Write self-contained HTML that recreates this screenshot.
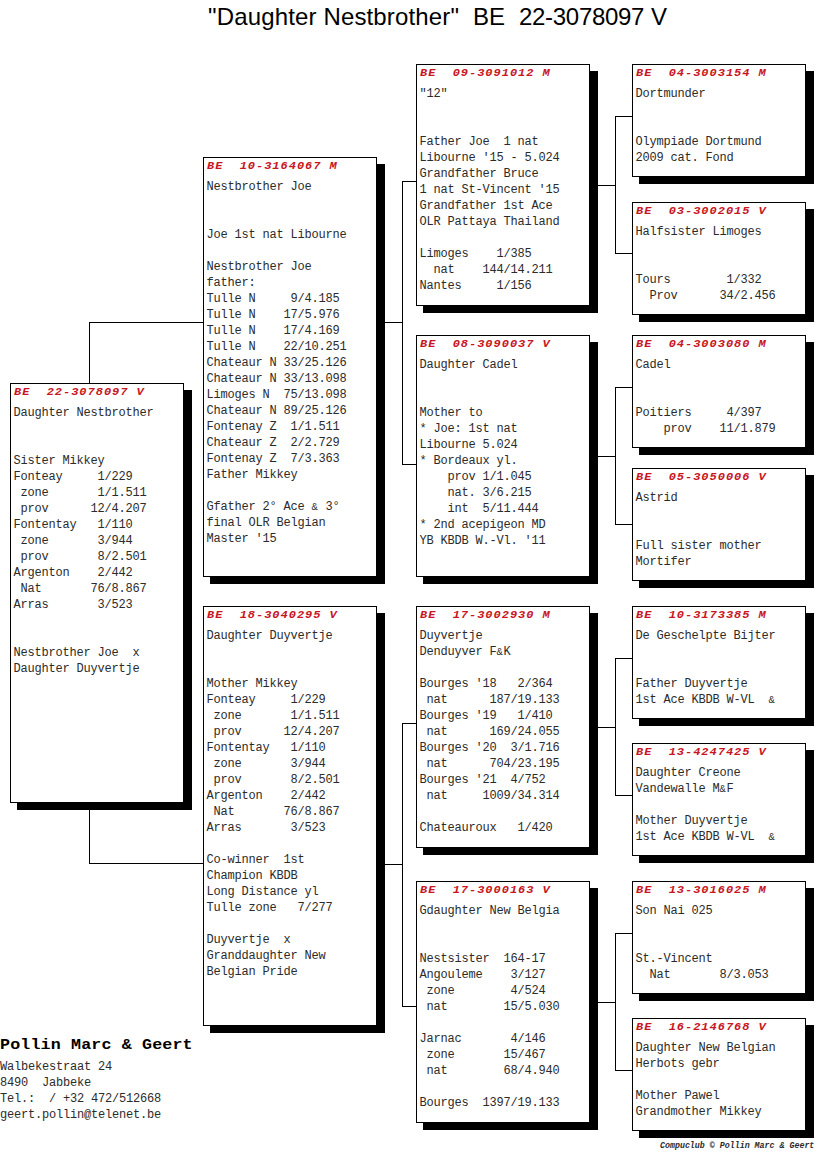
<!DOCTYPE html><html><head><meta charset="utf-8"><title>Pedigree</title><style>
*{margin:0;padding:0;box-sizing:border-box}
html,body{width:816px;height:1172px;background:#fff;overflow:hidden}
body{position:relative;font-family:"Liberation Mono",monospace;color:#2b2b2b}
.l{position:absolute;background:#000}
.s{position:absolute;background:#000;width:175px}
.b{position:absolute;background:#fff;border:1px solid #000;width:174px}
.h{position:absolute;left:3px;top:0px;transform-origin:0 11px;transform:scaleY(0.85);font-weight:bold;font-style:italic;color:#c8161f;font-weight:bold;font-size:12px;letter-spacing:0.97px;white-space:pre;line-height:16px}
.t{position:absolute;left:2.5px;top:21px;font-size:12px;letter-spacing:-0.2px;line-height:16px;white-space:pre}
.title{position:absolute;left:208px;top:4px;font-family:"Liberation Sans",sans-serif;font-size:24px;white-space:pre;line-height:26px;color:#000}
.ft{position:absolute;left:0;top:1037px;font-weight:bold;font-size:16.67px;letter-spacing:0.15px;white-space:pre;line-height:20px;transform-origin:0 0;transform:scaleY(0.88);color:#000}
.ad{position:absolute;left:0px;top:1059px;font-size:12px;letter-spacing:-0.2px;line-height:16px;white-space:pre}
.a{font-size:10.5px;letter-spacing:0.7px;line-height:0}
.cc{position:absolute;left:660px;top:1141px;font-size:8.3px;font-weight:bold;font-style:italic;white-space:pre;line-height:10px;letter-spacing:0px}
</style></head><body>
<div class="title" style="left:208px;letter-spacing:0.15px">"Daughter Nestbrother"</div>
<div class="title" style="left:473px">BE</div>
<div class="title" style="left:519px;letter-spacing:-0.3px">22-3078097</div>
<div class="title" style="left:651px">V</div>
<div class="l" style="left:89px;top:322px;width:1px;height:542px"></div>
<div class="l" style="left:89px;top:322px;width:115px;height:1px"></div>
<div class="l" style="left:89px;top:863px;width:115px;height:1px"></div>
<div class="l" style="left:402px;top:181px;width:1px;height:284px"></div>
<div class="l" style="left:376px;top:322px;width:27px;height:1px"></div>
<div class="l" style="left:402px;top:181px;width:15px;height:1px"></div>
<div class="l" style="left:402px;top:464px;width:15px;height:1px"></div>
<div class="l" style="left:402px;top:723px;width:1px;height:284px"></div>
<div class="l" style="left:376px;top:864px;width:27px;height:1px"></div>
<div class="l" style="left:402px;top:723px;width:15px;height:1px"></div>
<div class="l" style="left:402px;top:1006px;width:15px;height:1px"></div>
<div class="l" style="left:615px;top:116px;width:1px;height:138px"></div>
<div class="l" style="left:589px;top:185px;width:27px;height:1px"></div>
<div class="l" style="left:615px;top:116px;width:18px;height:1px"></div>
<div class="l" style="left:615px;top:253px;width:18px;height:1px"></div>
<div class="l" style="left:615px;top:387px;width:1px;height:138px"></div>
<div class="l" style="left:589px;top:456px;width:27px;height:1px"></div>
<div class="l" style="left:615px;top:387px;width:18px;height:1px"></div>
<div class="l" style="left:615px;top:524px;width:18px;height:1px"></div>
<div class="l" style="left:615px;top:658px;width:1px;height:138px"></div>
<div class="l" style="left:589px;top:727px;width:27px;height:1px"></div>
<div class="l" style="left:615px;top:658px;width:18px;height:1px"></div>
<div class="l" style="left:615px;top:795px;width:18px;height:1px"></div>
<div class="l" style="left:615px;top:933px;width:1px;height:138px"></div>
<div class="l" style="left:589px;top:1002px;width:27px;height:1px"></div>
<div class="l" style="left:615px;top:933px;width:18px;height:1px"></div>
<div class="l" style="left:615px;top:1070px;width:18px;height:1px"></div>
<div class="s" style="left:17px;top:390px;height:420px"></div>
<div class="b" style="left:10px;top:383px;height:420px"><div class="h">BE  22-3078097 V</div><div class="t">Daughter Nestbrother


Sister Mikkey
Fonteay     1/229
 zone       1/1.511
 prov      12/4.207
Fontentay   1/110
 zone       3/944
 prov       8/2.501
Argenton    2/442
 Nat       76/8.867
Arras       3/523


Nestbrother Joe  x
Daughter Duyvertje</div></div>
<div class="s" style="left:210px;top:164px;height:420px"></div>
<div class="b" style="left:203px;top:157px;height:420px"><div class="h">BE  10-3164067 M</div><div class="t">Nestbrother Joe


Joe 1st nat Libourne

Nestbrother Joe
father:
Tulle N     9/4.185
Tulle N    17/5.976
Tulle N    17/4.169
Tulle N    22/10.251
Chateaur N 33/25.126
Chateaur N 33/13.098
Limoges N  75/13.098
Chateaur N 89/25.126
Fontenay Z  1/1.511
Chateaur Z  2/2.729
Fontenay Z  7/3.363
Father Mikkey

Gfather 2° Ace <span class="a">&amp;</span> 3°
final OLR Belgian
Master '15</div></div>
<div class="s" style="left:210px;top:613px;height:420px"></div>
<div class="b" style="left:203px;top:606px;height:420px"><div class="h">BE  18-3040295 V</div><div class="t">Daughter Duyvertje


Mother Mikkey
Fonteay     1/229
 zone       1/1.511
 prov      12/4.207
Fontentay   1/110
 zone       3/944
 prov       8/2.501
Argenton    2/442
 Nat       76/8.867
Arras       3/523

Co-winner  1st
Champion KBDB
Long Distance yl
Tulle zone   7/277

Duyvertje  x
Granddaughter New
Belgian Pride</div></div>
<div class="s" style="left:423px;top:71px;height:242px"></div>
<div class="b" style="left:416px;top:64px;height:242px"><div class="h">BE  09-3091012 M</div><div class="t">"12"


Father Joe  1 nat
Libourne '15 - 5.024
Grandfather Bruce
1 nat St-Vincent '15
Grandfather 1st Ace
OLR Pattaya Thailand

Limoges    1/385
  nat    144/14.211
Nantes     1/156</div></div>
<div class="s" style="left:423px;top:342px;height:242px"></div>
<div class="b" style="left:416px;top:335px;height:242px"><div class="h">BE  08-3090037 V</div><div class="t">Daughter Cadel


Mother to
* Joe: 1st nat
Libourne 5.024
* Bordeaux yl.
    prov 1/1.045
    nat. 3/6.215
    int  5/11.444
* 2nd acepigeon MD
YB KBDB W.-Vl. '11</div></div>
<div class="s" style="left:423px;top:613px;height:242px"></div>
<div class="b" style="left:416px;top:606px;height:242px"><div class="h">BE  17-3002930 M</div><div class="t">Duyvertje
Denduyver F<span class="a">&amp;</span>K

Bourges '18   2/364
 nat      187/19.133
Bourges '19   1/410
 nat      169/24.055
Bourges '20  3/1.716
 nat      704/23.195
Bourges '21  4/752
 nat     1009/34.314

Chateauroux   1/420</div></div>
<div class="s" style="left:423px;top:888px;height:242px"></div>
<div class="b" style="left:416px;top:881px;height:242px"><div class="h">BE  17-3000163 V</div><div class="t">Gdaughter New Belgia


Nestsister  164-17
Angouleme    3/127
 zone        4/524
 nat        15/5.030

Jarnac       4/146
 zone       15/467
 nat        68/4.940

Bourges  1397/19.133</div></div>
<div class="s" style="left:639px;top:71px;height:113px"></div>
<div class="b" style="left:632px;top:64px;height:113px"><div class="h">BE  04-3003154 M</div><div class="t">Dortmunder


Olympiade Dortmund
2009 cat. Fond</div></div>
<div class="s" style="left:639px;top:209px;height:113px"></div>
<div class="b" style="left:632px;top:202px;height:113px"><div class="h">BE  03-3002015 V</div><div class="t">Halfsister Limoges


Tours        1/332
  Prov      34/2.456</div></div>
<div class="s" style="left:639px;top:342px;height:113px"></div>
<div class="b" style="left:632px;top:335px;height:113px"><div class="h">BE  04-3003080 M</div><div class="t">Cadel


Poitiers     4/397
    prov    11/1.879</div></div>
<div class="s" style="left:639px;top:475px;height:113px"></div>
<div class="b" style="left:632px;top:468px;height:113px"><div class="h">BE  05-3050006 V</div><div class="t">Astrid


Full sister mother
Mortifer</div></div>
<div class="s" style="left:639px;top:613px;height:113px"></div>
<div class="b" style="left:632px;top:606px;height:113px"><div class="h">BE  10-3173385 M</div><div class="t">De Geschelpte Bijter


Father Duyvertje
1st Ace KBDB W-VL  <span class="a">&amp;</span></div></div>
<div class="s" style="left:639px;top:750px;height:113px"></div>
<div class="b" style="left:632px;top:743px;height:113px"><div class="h">BE  13-4247425 V</div><div class="t">Daughter Creone
Vandewalle M<span class="a">&amp;</span>F

Mother Duyvertje
1st Ace KBDB W-VL  <span class="a">&amp;</span></div></div>
<div class="s" style="left:639px;top:888px;height:113px"></div>
<div class="b" style="left:632px;top:881px;height:113px"><div class="h">BE  13-3016025 M</div><div class="t">Son Nai 025


St.-Vincent
  Nat       8/3.053</div></div>
<div class="s" style="left:639px;top:1025px;height:113px"></div>
<div class="b" style="left:632px;top:1018px;height:113px"><div class="h">BE  16-2146768 V</div><div class="t">Daughter New Belgian
Herbots gebr

Mother Pawel
Grandmother Mikkey</div></div>
<div class="ft">Pollin Marc &amp; Geert</div>
<div class="ad">Walbekestraat 24
8490  Jabbeke
Tel.:  / +32 472/512668
geert.pollin@telenet.be</div>
<div class="cc">Compuclub © Pollin Marc &amp; Geert</div>
</body></html>
